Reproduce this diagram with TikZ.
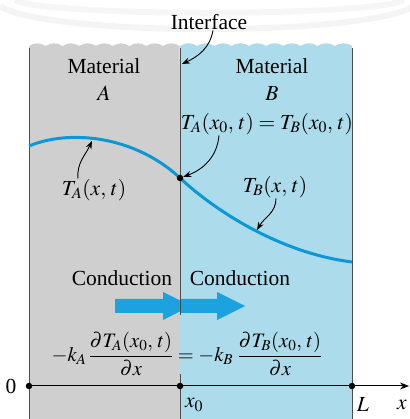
\documentclass[tikz,border=0pt]{standalone}
\usepackage{mathptmx}
\usepackage{fontspec}
\setmainfont{Liberation Serif}
\newfontfamily\lblfont{Liberation Serif}
\usetikzlibrary{arrows.meta, positioning}
\definecolor{matgray}{RGB}{207,207,207}
\definecolor{matblue}{RGB}{172,219,235}
\definecolor{tcurve}{RGB}{12,152,212}
\definecolor{flowblue}{RGB}{28,162,222}

\begin{document}
\begin{tikzpicture}[x=1pt, y=1pt,
        lbl/.style={font=\lblfont\fontsize{21.5}{27}\selectfont, inner sep=0.5pt},
        pointer/.style={-{Stealth[length=8pt, width=6pt]}, line width=0.9pt},
        wall/.style={line width=0.8pt, black!70},
        tdot/.style={circle, fill=black, inner sep=0pt, minimum size=6.5pt},
        flow/.style={fill=flowblue}
    ]
    \useasboundingbox (0,0) rectangle (409,419);
    % faint watermark bands
    \draw[gray!9, line width=6pt] (0,413) arc[start angle=190, end angle=350, x radius=210, y radius=28];
    \draw[gray!7, line width=6pt] (15,419) arc[start angle=185, end angle=355, x radius=195, y radius=14];

    % the two materials with a torn top
    \fill[matgray] (29,0) -- (29,373)
        \foreach \i in {1,...,9} {arc[start angle=125, end angle=55, radius=14.6]}
        -- (180,0) -- cycle;
    \fill[matblue] (180,0) -- (180,373)
        \foreach \i in {1,...,10} {arc[start angle=125, end angle=55, radius=15]}
        -- (352,0) -- cycle;
    \draw[wall] (29,0) -- (29,371);
    \draw[wall] (352,0) -- (352,371);

    % temperature profile
    \draw[tcurve, line width=3pt] (29,273) .. controls (70,290) and (135,283) .. (180,241)
        .. controls (215,208.3) and (280,166) .. (352,157);

    % heat flow arrows
    \foreach \xa/\xb/\xc in {115/163/191, 180/217/245}
        \fill[flow] (\xa,106) -- (\xb,106) -- (\xb,99) -- (\xc,113)
            -- (\xb,127) -- (\xb,120) -- (\xa,120) -- cycle;

    % interface line
    \draw[wall] (180,0) -- (180,45);
    \draw[wall] (180,104) -- (180,371);

    % labels
    \node[lbl] (iface) at (209,397) {Interface};
    \node[lbl, align=center] (labA) at (104,339) {Material\\$A$};
    \node[lbl, align=center] (labB) at (272,339) {Material\\$B$};
    \node[lbl] (eq0) at (267,295) {$T_A(x_0,\, t) = T_B(x_0,\, t)$};
    \node[lbl] (tA) at (94,229) {$T_A(x,\, t)$};
    \node[lbl] (tB) at (275,232) {$T_B(x,\, t)$};
    \node[lbl] (condA) at (122,141) {Conduction};
    \node[lbl] (condB) at (240,141) {Conduction};
    \node[lbl, font=\lblfont\fontsize{20.5}{26}\selectfont] (flux) at (187,65)
        {$-k_A\,\displaystyle\frac{\partial T_A(x_0,\, t)}{\partial x}
        = -k_B\;\displaystyle\frac{\partial T_B(x_0,\, t)}{\partial x}$};

    % points on the curve and axis
    \node[tdot] (x0dot) at (180,241) {};
    \coordinate (ifaceTip) at (182,355);
    \coordinate (tApt) at (92,278);
    \coordinate (tBpt) at (257,189);

    \draw[pointer] ([xshift=4pt]iface.south) to[out=-100, in=25] (ifaceTip);
    \draw[pointer] ([xshift=-16pt]tA.north) to[out=95, in=-115] (tApt);
    \draw[pointer] ([xshift=-48pt]eq0.south) to[out=-95, in=20] (x0dot);
    \draw[pointer] ([xshift=1pt]tB.south) to[out=-90, in=60] (tBpt);

    % x axis
    \node[tdot] (orig) at (29,33) {};
    \node[tdot] (x0) at (180,33) {};
    \node[tdot] (xL) at (352,33) {};
    \coordinate (xend) at (409,33);
    \draw[-{Stealth[length=9pt, width=7pt]}, line width=1pt] (orig) -- (xend);
    \node[lbl] (zero) at (11,33) {0};
    \node[lbl] (labx0) at (194,14) {$x_0$};
    \node[lbl] (labL) at (363,14) {$L$};
    \node[lbl] (labx) at (402,14) {$x$};
\end{tikzpicture}
\end{document}
